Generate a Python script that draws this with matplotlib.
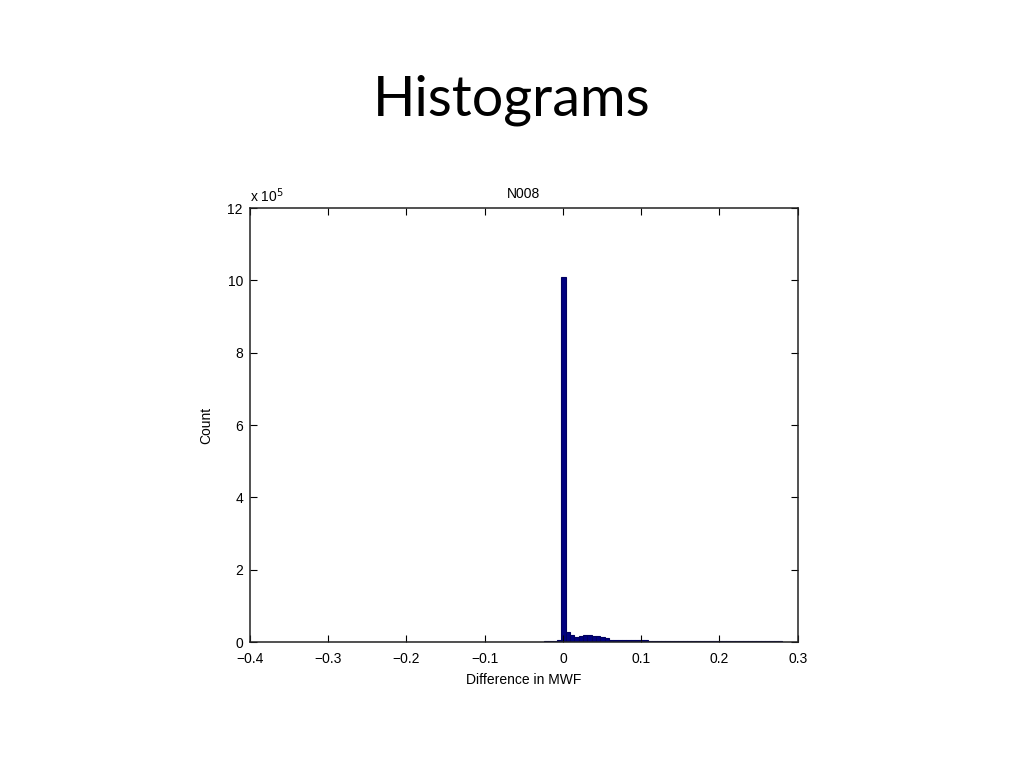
import numpy as np
import matplotlib.pyplot as plt
from matplotlib.ticker import FuncFormatter

# histogram of MWF differences, counts in units of 1e5
bin_start = -0.2735
bin_width = 0.00554
counts_1e5 = (
    [0.015] * 45
    + [0.02, 0.03, 0.04, 0.06]
    + [10.1]
    + [0.28, 0.2, 0.15, 0.16, 0.19, 0.19, 0.18, 0.16, 0.13, 0.1]
    + [0.07, 0.07, 0.06, 0.06, 0.06, 0.06, 0.05, 0.05, 0.05]
    + [0.02] * 31
)
x_ticks = [-0.4, -0.3, -0.2, -0.1, 0, 0.1, 0.2, 0.3]
y_ticks = [0, 2, 4, 6, 8, 10, 12]

counts = np.array(counts_1e5) * 1e5
edges = bin_start + bin_width * np.arange(len(counts) + 1)

plt.rcParams['font.family'] = ['Liberation Sans', 'DejaVu Sans']

fig = plt.figure(figsize=(10.24, 7.68), dpi=100)
fig.text(0.5, 0.87, 'Histograms', ha='center', va='center',
         fontsize=40, family=['Lato', 'DejaVu Sans'])

ax = fig.add_axes([0.244, 0.164, 0.535, 0.565])
ax.bar(edges[:-1], counts, width=np.diff(edges), align='edge',
       color='#000080', edgecolor='#000060', linewidth=0.8)

ax.set_xlim(-0.4, 0.3)
ax.set_ylim(0, 12e5)
ax.set_xticks(x_ticks)
ax.set_xticklabels(['0' if t == 0 else f'{t:g}'.replace('-', '\u2212') for t in x_ticks])
ax.set_yticks([v * 1e5 for v in y_ticks])
ax.yaxis.set_major_formatter(FuncFormatter(lambda v, p: f'{v / 1e5:g}'))
ax.tick_params(direction='in', top=True, right=True, length=5, width=0.8,
               labelsize=10)
ax.tick_params(axis='x', pad=7)
ax.tick_params(axis='y', pad=5)
for s in ax.spines.values():
    s.set_linewidth(1.1)
    s.set_color('#222222')

ax.set_title('N008', fontsize=10, pad=7)
ax.set_xlabel('Difference in MWF', fontsize=10, labelpad=5)
ax.set_ylabel('Count', fontsize=10, labelpad=10)
ax.text(0.0, 1.008, 'x 10$^5$', transform=ax.transAxes, fontsize=10,
        va='bottom', ha='left')

fig.savefig('out.png', dpi=100)
